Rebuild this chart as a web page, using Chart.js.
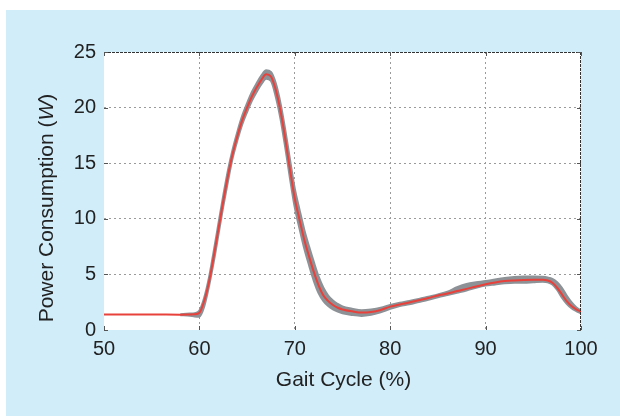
<!DOCTYPE html>
<html>
<head>
<meta charset="utf-8">
<script src="https://cdn.jsdelivr.net/npm/chart.js@4.4.1/dist/chart.umd.min.js"></script>
<style>
html,body{margin:0;padding:0;background:#fff;}
canvas{display:block;}
</style>
</head>
<body>
<canvas id="c" width="620" height="416"></canvas>
<script>
// Gait cycle (%) sample positions
const gaitCycle = [50, 55, 58, 59, 59.5, 60, 60.5, 61, 61.5, 62, 62.5, 63, 63.5, 64, 64.5, 65, 65.5, 66, 66.5, 67, 67.5, 68, 68.5, 69, 69.5, 70, 70.5, 71, 71.5, 72, 72.5, 73, 73.5, 74, 74.5, 75, 76, 77, 78, 79, 80, 81, 82, 83, 84, 85, 86, 87, 88, 89, 90, 91, 92, 93, 94, 95, 96, 96.5, 97, 97.5, 98, 98.5, 99, 99.5, 100];
// Mean power consumption (W) - red line
const meanPower = [1.4, 1.4, 1.38, 1.4, 1.42, 1.55, 2.6, 4.3, 6.6, 9.1, 11.6, 13.9, 15.9, 17.5, 18.9, 20.0, 21.0, 21.8, 22.5, 23.0, 22.8, 21.6, 19.7, 17.2, 14.4, 11.8, 9.9, 8.1, 6.6, 5.2, 4.0, 3.1, 2.6, 2.25, 2.0, 1.85, 1.68, 1.57, 1.62, 1.8, 2.1, 2.3, 2.48, 2.68, 2.88, 3.1, 3.28, 3.5, 3.7, 3.92, 4.12, 4.28, 4.4, 4.46, 4.5, 4.52, 4.52, 4.45, 4.25, 3.8, 3.2, 2.6, 2.15, 1.85, 1.65];
// Gray band (spread of trials)
const bandUpper = [null, null, 1.42, 1.48, 1.52, 1.75, 2.9, 4.7, 7.1, 9.6, 12.1, 14.4, 16.3, 17.9, 19.3, 20.4, 21.4, 22.2, 22.9, 23.35, 23.2, 22.2, 20.4, 18.0, 15.3, 12.7, 10.8, 9.0, 7.5, 6.1, 4.8, 3.8, 3.1, 2.65, 2.35, 2.12, 1.92, 1.78, 1.85, 2.0, 2.25, 2.45, 2.62, 2.8, 3.0, 3.2, 3.45, 3.85, 4.15, 4.3, 4.4, 4.55, 4.68, 4.76, 4.8, 4.8, 4.78, 4.72, 4.6, 4.3, 3.8, 3.1, 2.5, 2.05, 1.75];
const bandLower = [null, null, 1.33, 1.28, 1.22, 1.2, 2.1, 3.9, 6.1, 8.6, 11.1, 13.4, 15.5, 17.1, 18.5, 19.6, 20.6, 21.4, 22.1, 22.6, 22.4, 21.0, 19.0, 16.4, 13.6, 11.0, 9.1, 7.3, 5.8, 4.4, 3.3, 2.6, 2.15, 1.85, 1.65, 1.5, 1.35, 1.27, 1.37, 1.6, 1.9, 2.15, 2.32, 2.52, 2.72, 2.95, 3.15, 3.35, 3.55, 3.8, 4.0, 4.1, 4.2, 4.25, 4.25, 4.3, 4.35, 4.3, 4.1, 3.6, 2.9, 2.35, 1.95, 1.7, 1.5];
// Tick values
const xTicks = [50, 60, 70, 80, 90, 100];
const yTicks = [0, 5, 10, 15, 20, 25];

const pts = (ys) => gaitCycle.map((x, i) => ({x: x, y: ys[i]}));
const FONT = '"Liberation Sans", Arial, Helvetica, sans-serif';

const bgPlugin = {
  id: 'bg',
  beforeDraw(chart) {
    const ctx = chart.ctx, a = chart.chartArea;
    ctx.save();
    ctx.fillStyle = '#ffffff';
    ctx.fillRect(0, 0, chart.width, chart.height);
    ctx.fillStyle = '#d1edfa';
    ctx.fillRect(6, 10, chart.width - 6, chart.height - 10);
    ctx.fillStyle = '#ffffff';
    ctx.fillRect(a.left, a.top, a.right - a.left, a.bottom - a.top);
    ctx.restore();
  },
  afterDraw(chart) {
    const ctx = chart.ctx, a = chart.chartArea;
    const xs = chart.scales.x, ys = chart.scales.y;
    ctx.save();
    // top and right box lines
    ctx.strokeStyle = '#333';
    ctx.lineWidth = 1;
    ctx.setLineDash([3, 1]);
    ctx.beginPath();
    ctx.moveTo(a.left, a.top + 0.5); ctx.lineTo(a.right, a.top + 0.5);
    ctx.moveTo(a.right - 0.5, a.top); ctx.lineTo(a.right - 0.5, a.bottom);
    ctx.stroke();
    ctx.setLineDash([]);
    // inward tick marks
    ctx.strokeStyle = '#555';
    ctx.beginPath();
    xTicks.forEach(v => {
      const px = Math.round(xs.getPixelForValue(v)) + 0.5;
      ctx.moveTo(px, a.top); ctx.lineTo(px, a.top + 4);
      ctx.moveTo(px, a.bottom); ctx.lineTo(px, a.bottom - 4);
    });
    yTicks.forEach(v => {
      const py = Math.round(ys.getPixelForValue(v)) + 0.5;
      ctx.moveTo(a.left, py); ctx.lineTo(a.left + 4, py);
      ctx.moveTo(a.right, py); ctx.lineTo(a.right - 4, py);
    });
    ctx.stroke();
    // axis titles
    ctx.fillStyle = '#222';
    ctx.font = '21px ' + FONT;
    ctx.textAlign = 'center';
    ctx.textBaseline = 'alphabetic';
    ctx.fillText('Gait Cycle (%)', (a.left + a.right) / 2 + 1, 386);
    // y title with italic W
    ctx.translate(53, 208);
    ctx.rotate(-Math.PI / 2);
    const p1 = 'Power Consumption (', p2 = 'W', p3 = ')';
    ctx.font = '21px ' + FONT;
    const w1 = ctx.measureText(p1).width, w3 = ctx.measureText(p3).width;
    ctx.font = 'italic 21px ' + FONT;
    const w2 = ctx.measureText(p2).width;
    const total = w1 + w2 + w3;
    let x0 = -total / 2;
    ctx.textAlign = 'left';
    ctx.font = '21px ' + FONT;
    ctx.fillText(p1, x0, 0);
    ctx.font = 'italic 21px ' + FONT;
    ctx.fillText(p2, x0 + w1, 0);
    ctx.font = '21px ' + FONT;
    ctx.fillText(p3, x0 + w1 + w2, 0);
    ctx.restore();
  }
};

new Chart(document.getElementById('c'), {
  type: 'line',
  data: {
    datasets: [
      {data: pts(bandLower), order: 3, borderColor: '#8d9297', borderWidth: 2, pointRadius: 0, fill: false, cubicInterpolationMode: 'monotone', spanGaps: false},
      {data: pts(bandUpper), order: 2, borderColor: '#8d9297', borderWidth: 2, backgroundColor: '#8d9297', pointRadius: 0, fill: '-1', cubicInterpolationMode: 'monotone', spanGaps: false},
      {data: pts(meanPower), order: 0, borderColor: '#e8403a', borderWidth: 2, pointRadius: 0, fill: false, cubicInterpolationMode: 'monotone'}
    ]
  },
  options: {
    responsive: false,
    animation: false,
    layout: {padding: {left: 0, top: 52, right: 39, bottom: 0}},
    plugins: {legend: {display: false}, tooltip: {enabled: false}},
    scales: {
      x: {
        type: 'linear', min: 50, max: 100,
        afterFit(s) { s.height = 86; },
        afterBuildTicks(s) { s.ticks = xTicks.map(v => ({value: v})); },
        ticks: {color: '#222', font: {family: FONT, size: 20}, padding: 7, maxRotation: 0},
        grid: {drawTicks: false, color: (c) => (c.tick && (c.tick.value === 50 || c.tick.value === 100)) ? 'rgba(0,0,0,0)' : '#9a9a9a', lineWidth: 1},
        border: {display: false, dash: [2, 3]}
      },
      y: {
        min: 0, max: 25,
        afterFit(s) { s.width = 104; },
        afterBuildTicks(s) { s.ticks = yTicks.map(v => ({value: v})); },
        ticks: {color: '#222', font: {family: FONT, size: 20}, padding: 8},
        grid: {drawTicks: false, color: (c) => (c.tick && (c.tick.value === 0 || c.tick.value === 25)) ? 'rgba(0,0,0,0)' : '#9a9a9a', lineWidth: 1},
        border: {display: false, dash: [2, 3]}
      }
    }
  },
  plugins: [bgPlugin]
});
</script>
</body>
</html>
